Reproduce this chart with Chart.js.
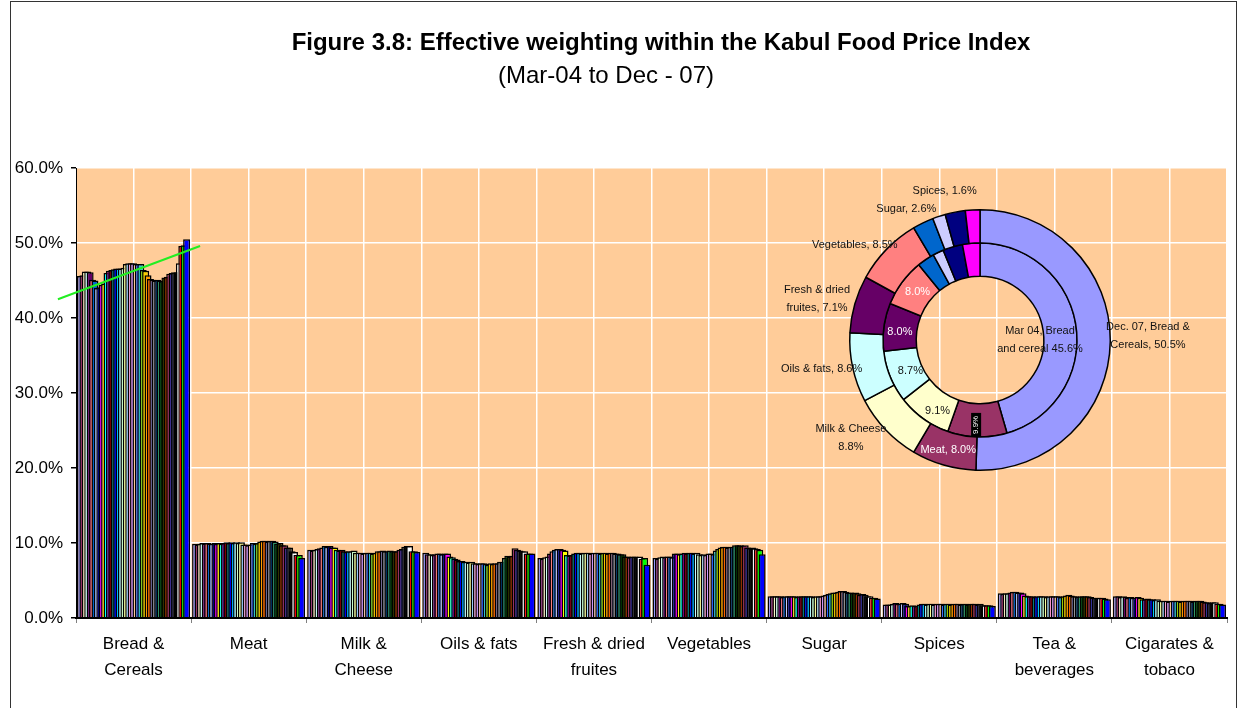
<!DOCTYPE html>
<html>
<head>
<meta charset="utf-8">
<title>Kabul Food Price Index weighting</title>
<script src="https://cdn.jsdelivr.net/npm/chart.js@4.4.1/dist/chart.umd.min.js"></script>
<style>
  html, body { margin: 0; padding: 0; background: #fff; }
  body { width: 1238px; height: 708px; position: relative; overflow: hidden;
         font-family: "Liberation Sans", Arial, sans-serif; color: #000; }
  #frame { position: absolute; left: 10px; top: 1px; width: 1225px; height: 730px; border: 1px solid #333; }
  #mainChart { position: absolute; left: 0; top: 0; }
  #ringChart { position: absolute; left: 760px; top: 175px; }
  .title { position: absolute; left: 211px; top: 28px; width: 900px; text-align: center;
           font-size: 24px; font-weight: bold; white-space: nowrap; }
  .subtitle { position: absolute; left: 406px; top: 61px; width: 400px; text-align: center;
              font-size: 24px; white-space: nowrap; }
</style>
</head>
<body>
<div id="frame"></div>
<canvas id="mainChart" width="1238" height="708"></canvas>
<canvas id="ringChart" width="450" height="310"></canvas>
<div class="title">Figure 3.8: Effective weighting within the Kabul Food Price Index</div>
<div class="subtitle">(Mar-04 to Dec - 07)</div>

<script>
// --------------------------
// data
// --------------------------
const categories = [
  ["Bread &", "Cereals"], ["Meat"], ["Milk &", "Cheese"], ["Oils & fats"],
  ["Fresh & dried", "fruites"], ["Vegetables"], ["Sugar"], ["Spices"],
  ["Tea &", "beverages"], ["Cigarates &", "tobaco"]
];
const ringNames = ["Bread & Cereals", "Meat", "Milk & Cheese", "Oils & fats", "Fresh & dried fruites",
  "Vegetables", "Sugar", "Spices", "Tea & beverages", "Cigarates & tobaco"];

// monthly weights (%), Mar-04 ... Dec-07, one array per food group
const breadCereals = [45.6, 45.7, 46.2, 46.2, 46.1, 45.1, 45.0, 44.0, 44.1, 44.4, 44.6, 46.0, 46.3, 46.4, 46.5,
  46.6, 46.6, 46.6, 46.7, 47.2, 47.3, 47.3, 47.3, 47.2, 47.2, 47.2, 46.4, 46.3, 45.7, 45.2,
  45.1, 45.0, 45.1, 45.0, 44.9, 45.4, 45.5, 45.9, 46.0, 46.1, 46.1, 47.3, 49.6, 49.7, 50.5];
const meat = [9.9, 9.8, 9.9, 10.0, 9.9, 10.0, 9.9, 9.9, 10.0, 9.9, 10.0, 9.9, 10.0, 10.1, 10.0,
  10.1, 10.0, 10.1, 10.0, 10.1, 9.8, 9.8, 9.7, 9.8, 10.0, 9.9, 10.0, 10.2, 10.3, 10.3,
  10.2, 10.3, 10.3, 10.2, 9.9, 10.0, 9.7, 9.7, 9.4, 9.4, 8.9, 8.8, 8.4, 8.4, 8.0];
const milkCheese = [9.1, 9.0, 9.1, 9.2, 9.3, 9.4, 9.6, 9.5, 9.6, 9.4, 9.4, 9.1, 9.0, 9.1, 8.9,
  8.8, 8.9, 8.9, 9.0, 8.7, 8.7, 8.7, 8.6, 8.7, 8.7, 8.7, 8.6, 8.7, 8.9, 8.9,
  9.0, 8.9, 8.9, 9.0, 8.9, 8.9, 8.9, 9.1, 9.2, 9.5, 9.6, 9.6, 8.9, 8.9, 8.8];
const oilsFats = [8.7, 8.5, 8.5, 8.4, 8.5, 8.6, 8.6, 8.5, 8.6, 8.6, 8.2, 8.1, 7.9, 7.8, 7.6,
  7.6, 7.5, 7.5, 7.4, 7.5, 7.3, 7.3, 7.2, 7.3, 7.3, 7.2, 7.1, 7.3, 7.2, 7.3,
  7.3, 7.5, 7.5, 8.0, 8.3, 8.2, 8.3, 9.3, 9.1, 9.0, 8.9, 8.9, 8.6, 8.6, 8.6];
const freshDried = [8.0, 7.9, 8.1, 8.2, 8.6, 8.9, 9.1, 9.2, 9.2, 9.1, 9.0, 8.4, 8.3, 8.4, 8.6,
  8.7, 8.7, 8.6, 8.7, 8.7, 8.7, 8.6, 8.7, 8.7, 8.7, 8.6, 8.7, 8.7, 8.6, 8.7,
  8.7, 8.6, 8.6, 8.5, 8.5, 8.2, 8.2, 8.1, 8.2, 8.2, 8.1, 8.2, 7.9, 8.0, 7.1];
const vegetables = [8.0, 7.9, 8.1, 8.2, 8.1, 8.2, 8.2, 8.1, 8.6, 8.6, 8.5, 8.6, 8.7, 8.6, 8.7,
  8.7, 8.6, 8.7, 8.5, 8.4, 8.5, 8.4, 8.6, 8.6, 8.5, 9.0, 9.2, 9.4, 9.5, 9.5,
  9.4, 9.5, 9.5, 9.7, 9.7, 9.7, 9.6, 9.7, 9.4, 9.3, 9.4, 9.3, 9.2, 9.1, 8.5];
const sugar = [2.9, 2.9, 2.9, 2.9, 2.9, 2.8, 2.9, 2.9, 2.9, 2.9, 2.9, 2.8, 2.9, 2.9, 2.9,
  2.9, 2.9, 2.9, 2.8, 2.9, 2.9, 2.9, 3.0, 3.1, 3.2, 3.3, 3.4, 3.4, 3.5, 3.6,
  3.6, 3.5, 3.4, 3.4, 3.3, 3.4, 3.3, 3.1, 3.2, 3.1, 2.9, 2.9, 2.7, 2.7, 2.6];
const spices = [1.8, 1.8, 1.8, 1.9, 2.0, 1.9, 1.9, 2.0, 1.9, 1.6, 1.6, 1.7, 1.6, 1.6, 1.8,
  1.9, 1.9, 1.8, 1.9, 1.9, 1.8, 1.9, 1.9, 1.9, 1.8, 1.9, 1.9, 1.8, 1.9, 1.9,
  1.9, 1.8, 1.9, 1.9, 1.8, 1.9, 1.9, 1.9, 1.8, 1.9, 1.7, 1.7, 1.7, 1.7, 1.6];
const teaBeverages = [3.3, 3.2, 3.3, 3.3, 3.4, 3.5, 3.5, 3.4, 3.4, 3.3, 3.0, 2.9, 2.9, 2.9, 2.8,
  2.9, 2.9, 2.9, 2.9, 2.8, 2.9, 2.9, 2.9, 2.9, 2.9, 2.8, 2.9, 3.0, 3.1, 3.0,
  2.9, 2.9, 2.8, 2.9, 2.9, 2.9, 2.9, 2.8, 2.7, 2.7, 2.7, 2.7, 2.7, 2.6, 2.5];
const cigarettes = [2.9, 2.9, 2.8, 2.9, 2.8, 2.7, 2.8, 2.7, 2.7, 2.8, 2.7, 2.5, 2.5, 2.6, 2.5,
  2.5, 2.4, 2.5, 2.3, 2.3, 2.3, 2.3, 2.2, 2.3, 2.3, 2.3, 2.3, 2.2, 2.3, 2.3,
  2.3, 2.3, 2.2, 2.3, 2.3, 2.3, 2.2, 2.1, 2.1, 2.0, 2.1, 2.1, 1.9, 1.9, 1.8];

const groupSeries = [breadCereals, meat, milkCheese, oilsFats, freshDried, vegetables,
  sugar, spices, teaBeverages, cigarettes];

const yTicks = [0, 10, 20, 30, 40, 50, 60];

// hand drawn trend line over bread & cereals (x in category units, y in %)
const trendX = [-0.657, 0.578];
const trendY = [42.5, 49.6];

// --------------------------
// styles
// --------------------------
const FONT = '"Liberation Sans", Arial, sans-serif';
const excelColors = ["#9999FF", "#993366", "#FFFFCC", "#CCFFFF", "#660066", "#FF8080", "#0066CC", "#CCCCFF",
  "#000080", "#FF00FF", "#FFFF00", "#00FFFF", "#800080", "#800000", "#008080", "#0000FF",
  "#00CCFF", "#CCFFFF", "#CCFFCC", "#FFFF99", "#99CCFF", "#FF99CC", "#CC99FF", "#FFCC99",
  "#3366FF", "#33CCCC", "#99CC00", "#FFCC00", "#FF9900", "#FF6600", "#666699", "#969696",
  "#003366", "#339966", "#003300", "#333300", "#993300", "#993366", "#333399", "#333333",
  "#000000", "#FFFFFF", "#FF0000", "#00FF00", "#0000FF"];

const pct = v => v.toFixed(1) + "%";

// --------------------------
// plugins
// --------------------------
const plotBackground = {
  id: "plotBackground",
  beforeDraw(chart) {
    const { ctx, chartArea: a } = chart;
    ctx.save();
    ctx.fillStyle = "#FFCC99";
    ctx.fillRect(a.left, a.top, a.width, a.height);
    ctx.restore();
  }
};

// excel draws later series on top of earlier ones, chart.js does the reverse
const overlapOrder = {
  id: "overlapOrder",
  beforeDatasetsDraw(chart) {
    const { ctx, chartArea: a } = chart;
    ctx.save();
    ctx.beginPath();
    ctx.rect(a.left, a.top - 2, a.width, a.height + 2);
    ctx.clip();
    for (let i = 0; i < chart.data.datasets.length; i++) {
      chart.getDatasetMeta(i).controller.draw();
    }
    ctx.restore();
    return false;
  }
};

const trendLine = {
  id: "trendLine",
  afterDraw(chart) {
    const { ctx, scales } = chart;
    ctx.save();
    ctx.strokeStyle = "#22EE22";
    ctx.lineWidth = 2;
    ctx.beginPath();
    trendX.forEach((x, i) => {
      const px = scales.x.getPixelForValue(x);
      const py = scales.y.getPixelForValue(trendY[i]);
      i ? ctx.lineTo(px, py) : ctx.moveTo(px, py);
    });
    ctx.stroke();
    ctx.restore();
  }
};

// --------------------------
// bar chart
// --------------------------
const monthCount = breadCereals.length;
const barDatasets = [];
for (let m = 0; m < monthCount; m++) {
  barDatasets.push({
    label: "Series " + (m + 1),
    data: groupSeries.map(s => s[m]),
    backgroundColor: excelColors[m % excelColors.length],
    borderColor: "#000",
    borderWidth: 1.5,
    categoryPercentage: 0.943,
    barPercentage: 2.9
  });
}

// half-category steps for the white vertical grid
const halfSteps = [];
for (let v = -0.5; v <= categories.length - 0.5; v += 0.5) halfSteps.push({ value: v });

new Chart(document.getElementById("mainChart"), {
  type: "bar",
  data: { labels: categories, datasets: barDatasets },
  options: {
    responsive: false,
    animation: false,
    layout: { padding: { top: 168, right: 11, left: 0, bottom: 0 } },
    plugins: { legend: { display: false }, tooltip: { enabled: false } },
    scales: {
      x: {
        offset: true,
        grid: { offset: true, drawOnChartArea: false, tickColor: "#808080", tickLength: 5 },
        border: { color: "#000", width: 2, z: 1 },
        ticks: { color: "#000", padding: 9, maxRotation: 0, autoSkip: false,
                 font: { family: FONT, size: 17, lineHeight: 1.5 } },
        afterFit: s => { s.height = 90; }
      },
      x2: {
        type: "linear",
        position: "bottom",
        offset: false,
        min: -0.5,
        max: categories.length - 0.5,
        afterBuildTicks: s => { s.ticks = halfSteps.slice(); },
        ticks: { display: false },
        grid: { offset: false, color: "#fff", lineWidth: 1.5, drawTicks: false },
        border: { display: false },
        afterFit: s => { s.height = 0; }
      },
      y: {
        min: yTicks[0],
        max: yTicks[yTicks.length - 1],
        afterBuildTicks: s => { s.ticks = yTicks.map(v => ({ value: v })); },
        ticks: { color: "#000", padding: 8, callback: v => pct(v),
                 font: { family: FONT, size: 17 } },
        grid: { color: "#fff", lineWidth: 1.5, tickColor: "#000", tickLength: 5 },
        border: { color: "#000", width: 1, z: 1 },
        afterFit: s => { s.width = 76; }
      }
    }
  },
  plugins: [plotBackground, overlapOrder, trendLine]
});

// --------------------------
// doughnut inset: outer ring Dec-07, inner ring Mar-04
// --------------------------
const dec07 = groupSeries.map(s => s[s.length - 1]);
const mar04 = groupSeries.map(s => s[0]);
const ringColors = excelColors.slice(0, ringNames.length);

// ring 0 = outer (Dec 07), ring 1 = inner (Mar 04); r in px from centre, nudge in degrees
const ringLabelSpecs = [
  { ring: 0, idx: 0, text: v => ["Dec. 07, Bread &", "Cereals, " + pct(v)], r: 168, nudge: -2.3 },
  { ring: 0, idx: 1, text: v => ["Meat, " + pct(v)], r: 114, nudge: 0, color: "#fff" },
  { ring: 0, idx: 2, text: v => ["Milk & Cheese", pct(v)], r: 162, nudge: 6.4 },
  { ring: 0, idx: 3, text: v => ["Oils & fats, " + pct(v)], r: 161, nudge: 2 },
  { ring: 0, idx: 4, text: v => ["Fresh & dried", "fruites, " + pct(v)], r: 168, nudge: -2 },
  { ring: 0, idx: 5, text: v => ["Vegetables, " + pct(v)], r: 157, nudge: -7 },
  { ring: 0, idx: 6, text: v => ["Sugar, " + pct(v)], r: 150, nudge: -3.5 },
  { ring: 0, idx: 7, text: v => ["Spices, " + pct(v)], r: 153, nudge: 5 },
  { ring: 1, idx: 0, text: v => ["Mar 04, Bread", "and cereal " + pct(v)], r: 60, nudge: 8 },
  { ring: 1, idx: 2, text: v => [pct(v)], r: 83, nudge: -5 },
  { ring: 1, idx: 3, text: v => [pct(v)], r: 76, nudge: -1.4 },
  { ring: 1, idx: 4, text: v => [pct(v)], r: 80.5, nudge: -2, color: "#fff" },
  { ring: 1, idx: 5, text: v => [pct(v)], r: 79, nudge: 1.3, color: "#fff" }
];

const ringLabels = {
  id: "ringLabels",
  afterDraw(chart) {
    const ctx = chart.ctx;
    ctx.save();
    ctx.font = "11px " + FONT;
    ctx.textAlign = "center";
    ctx.textBaseline = "middle";
    for (const spec of ringLabelSpecs) {
      const arc = chart.getDatasetMeta(spec.ring).data[spec.idx];
      const p = arc.getProps(["x", "y", "startAngle", "endAngle"], true);
      const a = (p.startAngle + p.endAngle) / 2 + spec.nudge * Math.PI / 180;
      const cx = p.x + spec.r * Math.cos(a);
      const cy = p.y + spec.r * Math.sin(a);
      const lines = spec.text(chart.data.datasets[spec.ring].data[spec.idx]);
      ctx.fillStyle = spec.color || "#111";
      lines.forEach((line, i) => {
        ctx.fillText(line, cx, cy + (i - (lines.length - 1) / 2) * 18);
      });
    }

    // squeezed label on the inner meat slice
    const meatArc = chart.getDatasetMeta(1).data[1];
    const mp = meatArc.getProps(["x", "y", "startAngle", "endAngle"], true);
    const ma = (mp.startAngle + mp.endAngle) / 2 + Math.PI / 180;
    const mx = mp.x + 85 * Math.cos(ma);
    const my = mp.y + 85 * Math.sin(ma);
    ctx.fillStyle = "#000";
    ctx.fillRect(mx - 5, my - 12, 10, 24);
    ctx.translate(mx, my);
    ctx.rotate(-Math.PI / 2);
    ctx.fillStyle = "#fff";
    ctx.font = "8px " + FONT;
    ctx.fillText(pct(chart.data.datasets[1].data[1]), 0, 0);
    ctx.restore();
  }
};

new Chart(document.getElementById("ringChart"), {
  type: "doughnut",
  data: {
    labels: ringNames,
    datasets: [
      { label: "Dec. 07", data: dec07, backgroundColor: ringColors, borderColor: "#000", borderWidth: 1.5 },
      { label: "Mar 04", data: mar04, backgroundColor: ringColors, borderColor: "#000", borderWidth: 1.5 }
    ]
  },
  options: {
    responsive: false,
    animation: false,
    cutout: "49%",
    layout: { padding: { left: 89, right: 99, top: 34, bottom: 14 } },
    plugins: { legend: { display: false }, tooltip: { enabled: false } }
  },
  plugins: [ringLabels]
});
</script>
</body>
</html>
